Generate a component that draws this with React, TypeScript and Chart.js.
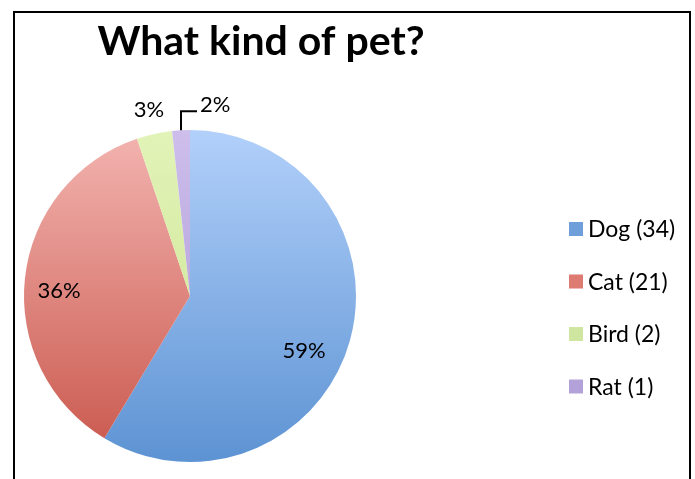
import React, { useEffect, useRef } from "react";
import { Chart, registerables } from "chart.js";

Chart.register(...registerables);

const TITLE = "What kind of pet?";
const CATEGORIES = ["Dog", "Cat", "Bird", "Rat"];
const COUNTS = [34, 21, 2, 1];
const COLORS_TOP = ["#b2d0fa", "#f3b4b0", "#e2f3b8", "#cdbeec"];
const COLORS_BOTTOM = ["#5d93d3", "#c9574c", "#c9e38d", "#a894d2"];
const LEGEND_COLORS = ["#6f9fdb", "#dd7a72", "#cfe6a1", "#b3a2da"];

const FONT = "Lato, 'Open Sans', sans-serif";

const overlayPlugin = {
  id: "overlay",
  afterDraw(chart: any) {
    const ctx = chart.ctx;
    const meta = chart.getDatasetMeta(0);
    const data = chart.data.datasets[0].data as number[];
    const total = data.reduce((a, b) => a + b, 0);
    ctx.save();
    // Title
    ctx.fillStyle = "#000";
    ctx.font = `bold 41px ${FONT}`;
    ctx.textBaseline = "alphabetic";
    ctx.textAlign = "center";
    ctx.fillText(TITLE, 261, 55);

    // Percent labels
    ctx.textBaseline = "middle";
    ctx.font = `22px ${FONT}`;
    meta.data.forEach((arc: any, i: number) => {
      const pct = Math.round((data[i] / total) * 100) + "%";
      const mid = (arc.startAngle + arc.endAngle) / 2;
      const r = arc.outerRadius;
      const cx = arc.x, cy = arc.y;
      if (data[i] / total > 0.1) {
        const k = i === 0 ? 0.76 : 0.79;
        const ang = i === 0 ? mid + 0.17 : mid - 0.06;
        ctx.fillText(pct, cx + Math.cos(ang) * r * k, cy + Math.sin(ang) * r * k + 1);
      } else if (i === 2) {
        const d = r + 25;
        ctx.fillText(pct, cx + Math.cos(mid) * d, cy + Math.sin(mid) * d);
      } else {
        const sx = cx + Math.cos(mid) * r;
        const sy = cy + Math.sin(mid) * r;
        ctx.strokeStyle = "#000";
        ctx.lineWidth = 2;
        ctx.beginPath();
        ctx.moveTo(sx, sy);
        ctx.lineTo(sx, sy - 19);
        ctx.lineTo(sx + 16, sy - 19);
        ctx.stroke();
        ctx.textAlign = "left";
        ctx.fillText(pct, sx + 19, sy - 25);
        ctx.textAlign = "center";
      }
    });

    // Legend
    ctx.textAlign = "left";
    ctx.textBaseline = "alphabetic";
    ctx.font = `23px ${FONT}`;
    CATEGORIES.forEach((c, i) => {
      const y = 237 + i * 52.5;
      ctx.fillStyle = LEGEND_COLORS[i];
      ctx.fillRect(569, y - 15, 14, 14);
      ctx.fillStyle = "#000";
      ctx.fillText(`${c} (${data[i]})`, 588, y);
    });
    ctx.restore();
  },
};

export default function App() {
  const ref = useRef<HTMLCanvasElement>(null);
  useEffect(() => {
    document.body.style.margin = "0";
    const canvas = ref.current!;
    const chart = new Chart(canvas, {
      type: "pie",
      data: {
        labels: CATEGORIES,
        datasets: [
          {
            data: COUNTS,
            borderWidth: 0,
            backgroundColor: (c: any) => {
              const area = c.chart.chartArea;
              if (!area) return COLORS_TOP[c.dataIndex];
              const g = c.chart.ctx.createLinearGradient(0, area.top, 0, area.bottom);
              g.addColorStop(0, COLORS_TOP[c.dataIndex]);
              g.addColorStop(1, COLORS_BOTTOM[c.dataIndex]);
              return g;
            },
          },
        ],
      },
      options: {
        animation: false,
        responsive: false,
        layout: { padding: { left: 24, right: 339, top: 130, bottom: 17 } },
        plugins: {
          legend: { display: false },
          tooltip: { enabled: false },
          title: { display: false },
        },
      },
      plugins: [overlayPlugin],
    });
    return () => chart.destroy();
  }, []);
  return (
    <div style={{ position: "relative", width: 695, height: 479, background: "#fff", overflow: "hidden" }}>
      <canvas ref={ref} width={695} height={479} style={{ display: "block" }} />
      <div
        style={{
          position: "absolute",
          left: 13,
          top: 11,
          width: 674,
          height: 480,
          borderTop: "2px solid #000",
          borderLeft: "2px solid #000",
          borderRight: "2px solid #000",
          pointerEvents: "none",
        }}
      />
    </div>
  );
}
